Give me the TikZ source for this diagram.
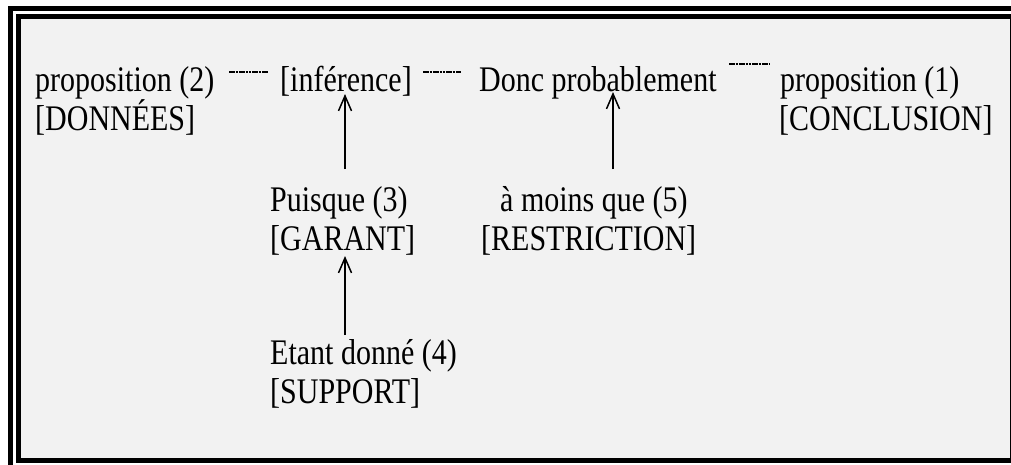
\documentclass[tikz,border=0pt]{standalone}
\usepackage{fontspec}
\setmainfont{Liberation Serif}
\usetikzlibrary{arrows.meta}
\definecolor{panel}{HTML}{F2F2F2}
% the lettering is set slightly taller than it is wide
\newcommand\tallline[1]{\scalebox{1}[1.2]{#1}}
\tikzset{
  txt/.style={inner sep=0pt, anchor=base west, font=\fontsize{30}{36}\selectfont},
  frameline/.style={line width=5pt},
  arr/.style={line width=1.5pt, -{Straight Barb[length=15pt,width=13pt,line width=1.5pt]}},
  tie/.style={line width=1.6pt, dash pattern=on 2.6pt off 0.7pt},
}
\begin{document}
\begin{tikzpicture}[x=1pt,y=-1pt]
\useasboundingbox (0,0) rectangle (1011,464);
% double frame with grey panel
\fill[panel] (18.5,16.5) rectangle (1012.5,460.5);
\draw[frameline] (10.5,8.5) rectangle (1020.5,468.5);
\draw[frameline] (18.5,16.5) rectangle (1012.5,460.5);

% top row
\node[txt] (p2)   at (35,91)  {\tallline{proposition (2)}};
\node[txt] (don)  at (35,130) {\tallline{[DONNÉES]}};
\node[txt] (inf)  at (280,91) {\tallline{[inférence]}};
\node[txt] (donc) at (479,91) {\tallline{Donc probablement}};
\node[txt] (p1)   at (780,91) {\tallline{proposition (1)}};
\node[txt] (conc) at (779,130) {\tallline{[CONCLUSION]}};

% second level
\node[txt] (puis) at (270,211) {\tallline{Puisque (3)}};
\node[txt] (gar)  at (270,250) {\tallline{[GARANT]}};
\node[txt] (amq)  at (500,211) {\tallline{à moins que (5)}};
\node[txt] (restr) at (481,250) {\tallline{[RESTRICTION]}};

% third level
\node[txt] (etant) at (270,364) {\tallline{Etant donné (4)}};
\node[txt] (supp)  at (270,403) {\tallline{[SUPPORT]}};

% short ties between the top-row terms
\coordinate (t1a) at (229,72);  \coordinate (t1b) at (268,72);
\coordinate (t2a) at (423,72);  \coordinate (t2b) at (461,72);
\coordinate (t3a) at (729,64);  \coordinate (t3b) at (769,64);
\draw[tie] (t1a) -- (t1b);
\draw[tie] (t2a) -- (t2b);
\draw[tie] (t3a) -- (t3b);

% arrows
\coordinate (a1s) at (345,169); \coordinate (a1e) at (345,94);
\coordinate (a2s) at (613,169); \coordinate (a2e) at (613,92);
\coordinate (a3s) at (345,335); \coordinate (a3e) at (345,256);
\draw[arr] (a1s) -- (a1e);
\draw[arr] (a2s) -- (a2e);
\draw[arr] (a3s) -- (a3e);
\end{tikzpicture}
\end{document}
